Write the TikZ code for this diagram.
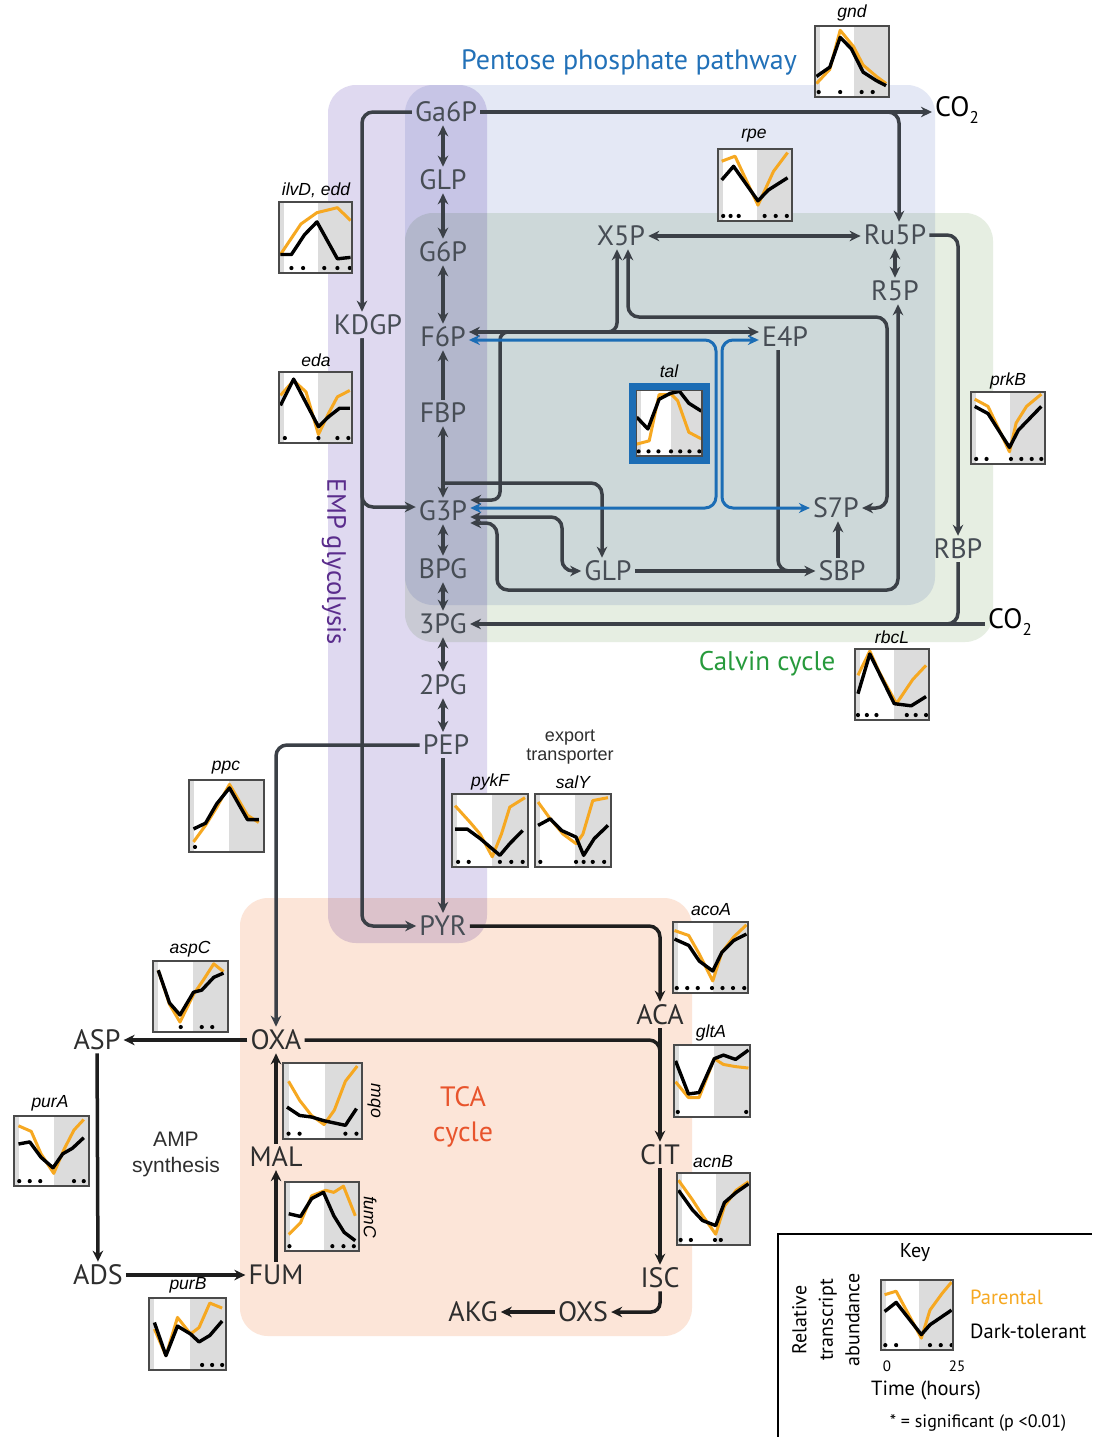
\documentclass[tikz,border=0pt]{standalone}
\usepackage{fontspec}
\setmainfont{PT Sans}
\newfontfamily\gfont{Liberation Sans}
\usetikzlibrary{arrows.meta}
\definecolor{ppcol}{HTML}{E4E8F5}
\definecolor{cccol}{HTML}{E6EEE2}
\definecolor{empcol}{HTML}{DFD9F0}
\definecolor{tcabg}{HTML}{FCE5D8}
\definecolor{lncol}{HTML}{3B4047}
\definecolor{metcol}{HTML}{474D55}
\definecolor{tcaln}{HTML}{1E1E1E}
\definecolor{tcatxt}{HTML}{2E2E2E}
\definecolor{bluecol}{HTML}{1C6DB5}
\definecolor{orangecol}{HTML}{F6A821}
\definecolor{chartgray}{HTML}{DCDCDC}
\definecolor{boxgray}{HTML}{4A4A4A}
\definecolor{ppptitle}{HTML}{2271B8}
\definecolor{cctitle}{HTML}{279A3C}
\definecolor{emptitle}{HTML}{5A2C8C}
\definecolor{tcatitle}{HTML}{E8542C}

\newcommand{\mchart}[6]{%
\begin{scope}[shift={(#1)}, x=#2pt, y=#3pt]
 \fill[white] (0,0) rectangle (1,1);
 \fill[chartgray] (0,0) rectangle (0.07,1);
 \fill[chartgray] (0.53,0) rectangle (1,1);
 \draw[orangecol, line width=3pt, line join=round] plot coordinates {#4};
 \draw[black, line width=3.4pt, line join=round] plot coordinates {#5};
 \foreach \d in {#6} \fill[black] (\d,0.07) circle[radius=2.1pt];
 \draw[boxgray, line width=1.5pt] (0,0) rectangle (1,1);
\end{scope}}

\begin{document}
\begin{tikzpicture}[x=1pt,y=-1pt,
  met/.style={font=\fontsize{28}{30}\selectfont, text=metcol, inner sep=3pt},
  tmet/.style={met, text=tcatxt},
  ln/.style={draw=lncol, line width=3.5pt},
  tln/.style={draw=tcaln, line width=3.5pt},
  arr/.style={ln, -{Stealth[length=11pt,width=10.5pt]}},
  dbl/.style={ln, {Stealth[length=11pt,width=10.5pt]}-{Stealth[length=11pt,width=10.5pt]}},
  tarr/.style={tln, -{Stealth[length=11pt,width=10.5pt]}},
  bl/.style={draw=bluecol, line width=3pt, {Stealth[length=11pt,width=10pt]}-{Stealth[length=11pt,width=10pt]}},
  gene/.style={font=\gfont\itshape\fontsize{17.5}{19}\selectfont, inner sep=1pt},
  rc/.style={rounded corners=11pt}]
\useasboundingbox (0,0) rectangle (1092,1437);
\fill[white] (0,0) rectangle (1092,1437);

% background regions
\begin{scope}[blend mode=multiply]
\fill[ppcol, rounded corners=28pt] (405,85) rectangle (935,605);
\fill[cccol, rounded corners=28pt] (405,213) rectangle (993,642);
\fill[empcol, rounded corners=28pt] (328,85) rectangle (487,943);
\fill[tcabg, rounded corners=28pt] (240,898) rectangle (692,1336);
\end{scope}

% titles
\node[font=\fontsize{28}{30}\selectfont, text=ppptitle] (tppp) at (629,62) {Pentose phosphate pathway};
\node[font=\fontsize{27}{30}\selectfont, text=cctitle] (tcc) at (767,664) {Calvin cycle};
\node[font=\fontsize{26.5}{30}\selectfont, text=emptitle, rotate=-90] (temp) at (334,562) {EMP glycolysis};
\node[font=\fontsize{28}{35}\selectfont, text=tcatitle, align=center] (ttca) at (463,1117) {TCA\\cycle};

% metabolites
\node[met] (ga6p) at (446,112) {Ga6P};
\node[met] (glpa) at (443,180) {GLP};
\node[met] (g6p) at (443,252) {G6P};
\node[met] (f6p) at (443,337) {F6P};
\node[met] (fbp) at (443,413) {FBP};
\node[met] (g3p) at (443,511) {G3P};
\node[met] (bpg) at (443,569) {BPG};
\node[met] (pg3) at (443,624) {3PG};
\node[met] (pg2) at (443,685) {2PG};
\node[met] (pep) at (446,745) {PEP};
\node[met] (pyr) at (443,926) {PYR};
\node[met] (kdgp) at (368,325) {KDGP};
\node[met, text=black] (co2a) at (957,110) {CO\raisebox{-7pt}{\fontsize{17}{17}\selectfont 2}};
\node[met] (x5p) at (621,236) {X5P};
\node[met] (ru5p) at (895,235) {Ru5P};
\node[met] (r5p) at (895,291) {R5P};
\node[met] (e4p) at (785,337) {E4P};
\node[met] (s7p) at (836,508) {S7P};
\node[met] (sbp) at (842,571) {SBP};
\node[met] (glpb) at (608,571) {GLP};
\node[met] (rbp) at (958,549) {RBP};
\node[met, text=black] (co2b) at (1010,622) {CO\raisebox{-7pt}{\fontsize{17}{17}\selectfont 2}};

\node[tmet] (aca) at (660,1015) {ACA};
\node[tmet] (oxa) at (276,1040) {OXA};
\node[tmet] (asp) at (97,1040) {ASP};
\node[tmet] (cit) at (660,1155) {CIT};
\node[tmet] (mal) at (276,1157) {MAL};
\node[tmet] (isc) at (660,1278) {ISC};
\node[tmet] (fum) at (276,1275) {FUM};
\node[tmet] (ads) at (98,1275) {ADS};
\node[tmet] (oxs) at (583,1312) {OXS};
\node[tmet] (akg) at (473,1312) {AKG};

\node[font=\gfont\fontsize{21}{26}\selectfont, align=center, text=tcatxt] (amp) at (176,1154) {AMP\\synthesis};
\node[font=\gfont\fontsize{18}{19}\selectfont, align=center, text=tcatxt] (expt) at (570,747) {export\\transporter};

% EMP chain
\draw[dbl] (ga6p.south -| glpa) -- (glpa);
\draw[dbl] (glpa) -- (g6p);
\draw[dbl] (g6p) -- (f6p);
\draw[arr] (fbp) -- (f6p);
\draw[dbl] (fbp) -- (g3p);
\draw[dbl] (g3p) -- (bpg);
\draw[dbl] (bpg) -- (pg3);
\draw[dbl] (pg3) -- (pg2);
\draw[dbl] (pg2) -- (pep.north -| pg2);
\draw[arr] (pep.south -| pyr) -- (pyr.north);
\draw[arr, rc] (pep.west) -| (oxa.north);
\draw[arr, rc] (443,483) -| ([xshift=-6pt]glpb.north);

% KDGP branch
\draw[arr, rc] (ga6p.west) -| ([xshift=-6pt]kdgp.north);
\draw[arr, rc] ([xshift=-6pt]kdgp.south) |- ([yshift=4pt]g3p.west);
\draw[arr, rc] ([xshift=-6pt]kdgp.south) |- (pyr.west);

% PPP
\draw[arr] (ga6p.east) -- (ga6p.east -| co2a.west);
\coordinate (j1) at (872,112);
\draw[arr, rc] (j1) -| ([xshift=4pt]ru5p.north);
\draw[dbl] (x5p.east) -- (x5p.east -| ru5p.west);
\draw[dbl] (ru5p) -- (r5p);
\draw[arr, rc] (ru5p.east) -| (rbp.north);
\draw[arr] (co2b.west |- pg3) -- (pg3.east);
\draw[ln, rc] (rbp.south) |- (925,624);

\draw[dbl] ([yshift=5pt]f6p.east) -- ([yshift=5pt]e4p.west);
\draw[arr, rounded corners=9pt] (585,332) -| ([xshift=-4pt]x5p.south);
\draw[arr, rounded corners=8pt] (525,332) -| (500,500) -- ([yshift=11pt]g3p.east);
\draw[dbl, rc] ([xshift=7pt]x5p.south) |- (887,317) |- (s7p.east);
\draw[dbl, rc] ([xshift=3pt]r5p.south) |- (497,590) |- ([yshift=-12pt]g3p.east);
\draw[dbl, rc] ([yshift=-6pt]g3p.east) -| (562,571) -- (glpb.west);
\draw[arr] (glpb.east) -- (sbp.west);
\draw[ln, rc] ([xshift=-7pt]e4p.south) |- ([xshift=-14pt]sbp.west);
\draw[arr] ([xshift=-4pt]sbp.north) -- ([xshift=-4pt]sbp.north |- s7p.south);

% transaldolase (blue)
\draw[bl, rc] ([yshift=-3pt]f6p.east) -| (716,508) -- ([yshift=3pt]g3p.east);
\draw[bl, rc] ([yshift=-3pt]e4p.west) -| (722,508) -- (s7p.west);

% TCA
\draw[tarr, rc] (pyr.east) -| (aca.north);
\draw[tarr] (aca) -- (cit);
\draw[tln, rc] (oxa.east) -| (660,1110);
\draw[tarr] (cit) -- (isc);
\draw[tarr, rounded corners=9pt] (isc.south) |- (oxs.east);
\draw[tarr] (oxs) -- (akg);
\draw[tarr] (fum) -- (mal);
\draw[tarr] (mal) -- (oxa);
\draw[tarr] (oxa) -- (asp);
\draw[tarr] (asp) -- (ads);
\draw[tarr] (ads) -- (fum);

% mini charts
\mchart{815,97}{74}{71}{(0.02,0.19) (0.2,0.39) (0.34,0.94) (0.52,0.71) (0.65,0.45) (0.83,0.29) (0.96,0.19)}{(0.02,0.29) (0.2,0.42) (0.34,0.84) (0.49,0.68) (0.65,0.35) (0.83,0.23) (0.96,0.16)}{0.05,0.34,0.63,0.78}
\node[gene] (lgnd) at (852,13) {gnd};
\mchart{718,221}{74}{72}{(0.05,0.83) (0.23,0.9) (0.54,0.22) (0.75,0.69) (0.94,0.95)}{(0.05,0.57) (0.21,0.76) (0.54,0.28) (0.68,0.43) (0.94,0.6)}{0.07,0.17,0.28,0.63,0.78,0.93}
\node[gene] (lrpe) at (754,136) {rpe};
\mchart{279,273}{73}{71}{(0.02,0.26) (0.3,0.69) (0.52,0.85) (0.8,0.92) (0.98,0.74)}{(0.02,0.26) (0.17,0.26) (0.35,0.54) (0.52,0.72) (0.8,0.2) (0.98,0.22)}{0.17,0.33,0.62,0.8,0.97}
\node[gene] (lilvd) at (316,190) {ilvD, edd};
\mchart{279,443}{73}{71}{(0.02,0.67) (0.2,0.88) (0.37,0.72) (0.54,0.12) (0.68,0.42) (0.8,0.65) (0.97,0.74)}{(0.02,0.53) (0.2,0.9) (0.54,0.23) (0.68,0.37) (0.83,0.49) (0.97,0.49)}{0.08,0.54,0.8,0.95}
\node[gene] (leda) at (316,360) {eda};
\mchart{636,456}{66}{66}{(0.01,0.18) (0.2,0.23) (0.35,0.93) (0.54,0.93) (0.63,0.84) (0.8,0.36) (0.99,0.26)}{(0.01,0.59) (0.18,0.41) (0.35,0.86) (0.52,0.95) (0.66,0.98) (0.8,0.8) (0.99,0.68)}{0.04,0.19,0.34,0.53,0.67,0.81,0.96}
\draw[bluecol, line width=7pt] (632,386) rectangle (706,460);
\node[gene] (ltal) at (669,371) {tal};
\mchart{971,464}{74}{72}{(0.05,0.9) (0.23,0.8) (0.52,0.17) (0.61,0.57) (0.75,0.8) (0.95,0.97)}{(0.05,0.8) (0.23,0.7) (0.52,0.23) (0.64,0.47) (0.95,0.8)}{0.07,0.21,0.54,0.68,0.82,0.95}
\node[gene] (lprkb) at (1008,381) {prkB};
\mchart{855,720}{74}{71}{(0.04,0.63) (0.2,0.97) (0.33,0.67) (0.56,0.23) (0.78,0.57) (0.96,0.77)}{(0.04,0.37) (0.2,0.93) (0.53,0.23) (0.76,0.2) (0.96,0.33)}{0.04,0.16,0.29,0.7,0.82,0.96}
\node[gene] (lrbcl) at (892,637) {rbcL};
\mchart{189,852}{75}{72}{(0.06,0.14) (0.22,0.37) (0.37,0.62) (0.54,0.94) (0.78,0.51) (0.93,0.41)}{(0.06,0.32) (0.22,0.4) (0.37,0.67) (0.54,0.89) (0.78,0.45) (0.93,0.45)}{0.08}
\node[gene] (lppc) at (226,768) {ppc};
\mchart{452,867}{76}{73}{(0.04,0.84) (0.24,0.61) (0.37,0.45) (0.53,0.14) (0.65,0.45) (0.76,0.82) (0.96,0.95)}{(0.04,0.52) (0.2,0.52) (0.37,0.39) (0.63,0.16) (0.76,0.32) (0.93,0.5)}{0.08,0.22,0.63,0.78,0.93}
\node[gene] (lpykf) at (490,782) {pykF};
\mchart{535,867}{76}{73}{(0.04,0.89) (0.2,0.66) (0.37,0.45) (0.54,0.32) (0.63,0.45) (0.76,0.91) (0.96,0.95)}{(0.04,0.57) (0.2,0.66) (0.35,0.5) (0.54,0.41) (0.64,0.16) (0.78,0.39) (0.96,0.57)}{0.07,0.54,0.64,0.76,0.91}
\node[gene] (lsaly) at (573,782) {salY};
\mchart{673,993}{75}{71}{(0.02,0.88) (0.21,0.81) (0.35,0.55) (0.53,0.17) (0.65,0.57) (0.81,0.79) (0.98,0.96)}{(0.02,0.76) (0.21,0.67) (0.35,0.45) (0.53,0.31) (0.65,0.57) (0.81,0.74) (0.98,0.83)}{0.05,0.19,0.33,0.52,0.66,0.8,0.95}
\node[gene] (lacoa) at (711,910) {acoA};
\mchart{153,1032}{75}{71}{(0.07,0.87) (0.22,0.39) (0.36,0.14) (0.54,0.53) (0.67,0.73) (0.81,0.96) (0.94,0.85)}{(0.07,0.87) (0.22,0.41) (0.36,0.24) (0.54,0.56) (0.65,0.59) (0.81,0.77) (0.94,0.83)}{0.37,0.65,0.79}
\node[gene] (laspc) at (190,949) {aspC};
\mchart{674,1117}{76}{72}{(0.02,0.49) (0.19,0.27) (0.33,0.27) (0.53,0.81) (0.65,0.73) (0.81,0.7) (0.98,0.68)}{(0.02,0.78) (0.19,0.32) (0.33,0.34) (0.53,0.81) (0.65,0.86) (0.81,0.8) (0.98,0.93)}{0.05,0.95}
\node[gene] (lglta) at (711,1033) {gltA};
\mchart{283,1139}{79}{76}{(0.07,0.76) (0.21,0.51) (0.36,0.31) (0.52,0.19) (0.65,0.38) (0.79,0.76) (0.94,0.96)}{(0.05,0.42) (0.21,0.31) (0.36,0.29) (0.52,0.24) (0.79,0.18) (0.93,0.4)}{0.07,0.21,0.79,0.93}
\node[gene, rotate=-90] (lmqo) at (374,1101) {mqo};
\mchart{14,1186}{75}{70}{(0.06,0.86) (0.23,0.78) (0.36,0.46) (0.53,0.18) (0.67,0.53) (0.8,0.8) (0.93,0.95)}{(0.06,0.6) (0.21,0.63) (0.36,0.41) (0.52,0.26) (0.65,0.46) (0.78,0.54) (0.93,0.69)}{0.07,0.21,0.35,0.8,0.93}
\node[gene] (lpura) at (50,1103) {purA};
\mchart{677,1245}{73}{72}{(0.02,0.9) (0.21,0.63) (0.35,0.41) (0.53,0.15) (0.65,0.54) (0.81,0.76) (0.98,0.88)}{(0.02,0.76) (0.21,0.49) (0.35,0.34) (0.53,0.27) (0.65,0.59) (0.81,0.73) (0.98,0.85)}{0.05,0.19,0.52,0.6}
\node[gene] (lacnb) at (713,1162) {acnB};
\mchart{285,1251}{74}{69}{(0.05,0.24) (0.21,0.41) (0.36,0.8) (0.55,0.88) (0.66,0.85) (0.79,0.94) (0.95,0.51)}{(0.05,0.54) (0.21,0.5) (0.36,0.76) (0.52,0.85) (0.66,0.51) (0.8,0.27) (0.95,0.15)}{0.06,0.64,0.79,0.93}
\node[gene, rotate=-90] (lfumc) at (370,1217) {fumC};
\mchart{149,1370}{77}{72}{(0.07,0.57) (0.22,0.2) (0.37,0.73) (0.54,0.5) (0.65,0.59) (0.79,0.93) (0.95,0.86)}{(0.07,0.66) (0.22,0.2) (0.37,0.61) (0.54,0.5) (0.65,0.39) (0.79,0.48) (0.95,0.68)}{0.69,0.82,0.95}
\node[gene] (lpurb) at (188,1285) {purB};

% key
\draw[black, line width=2pt] (778,1437) -- (778,1234) -- (1092,1234);
\node[font=\fontsize{20}{22}\selectfont] (kkey) at (915,1253) {Key};
\mchart{881,1350}{72}{70}{(0.05,0.79) (0.21,0.84) (0.56,0.17) (0.68,0.57) (0.85,0.81) (0.98,0.97)}{(0.05,0.55) (0.21,0.68) (0.56,0.22) (0.68,0.36) (0.98,0.57)}{0.06,0.21,0.68,0.83,0.98}
\node[font=\fontsize{20}{26.5}\selectfont, rotate=90, align=center] (krel) at (826,1320) {Relative\\transcript\\abundance};
\node[font=\fontsize{20.5}{22}\selectfont, text=orangecol, anchor=west, inner sep=0pt] (kpar) at (970,1297) {Parental};
\node[font=\fontsize{20.5}{22}\selectfont, anchor=west, inner sep=0pt] (kdark) at (970,1331) {Dark-tolerant};
\node[font=\fontsize{15}{16}\selectfont] (k0) at (887,1366) {0};
\node[font=\fontsize{15}{16}\selectfont] (k25) at (957,1366) {25};
\node[font=\fontsize{20.5}{22}\selectfont] (ktime) at (926,1390) {Time (hours)};
\node[font=\fontsize{18}{19}\selectfont] (ksig) at (978,1423) {* = significant (p <0.01)};
\end{tikzpicture}
\end{document}
